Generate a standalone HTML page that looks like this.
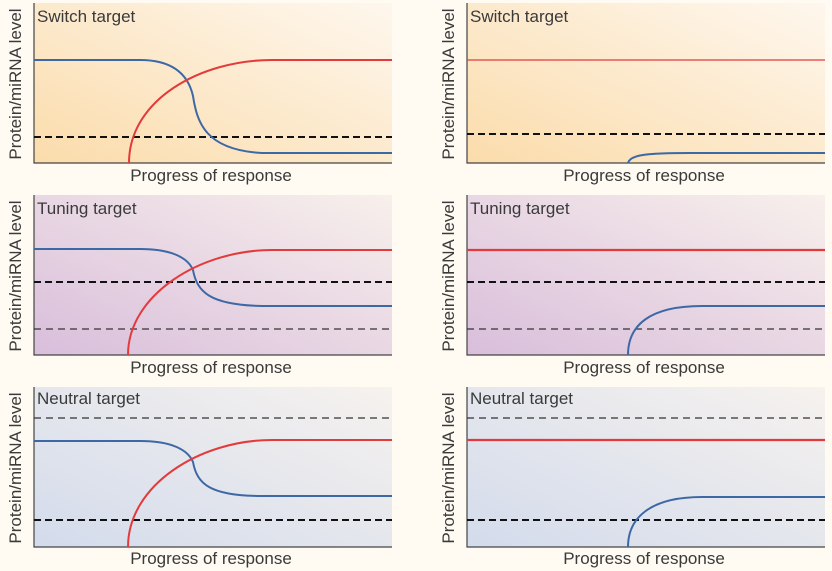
<!DOCTYPE html>
<html><head><style>
html,body{margin:0;padding:0;background:#fffaf2;}
svg{display:block;font-family:"Liberation Sans",sans-serif;}
</style></head><body>
<svg width="832" height="571" viewBox="0 0 832 571">
<defs>
<linearGradient id="g1" x1="0" y1="1" x2="1" y2="0"><stop offset="0" stop-color="#fbdcab"/><stop offset="1" stop-color="#fef7ee"/></linearGradient>
<linearGradient id="g2" x1="0" y1="1" x2="1" y2="0"><stop offset="0" stop-color="#d9bedb"/><stop offset="1" stop-color="#f8f0ec"/></linearGradient>
<linearGradient id="g3" x1="0" y1="1" x2="1" y2="0"><stop offset="0" stop-color="#d3dbec"/><stop offset="1" stop-color="#f6f2ee"/></linearGradient>
</defs>
<g>
<rect x="34" y="3" width="358" height="160" fill="url(#g1)"/>
<rect x="467" y="3" width="358" height="160" fill="url(#g1)"/>
<rect x="34" y="195" width="358" height="160" fill="url(#g2)"/>
<rect x="467" y="195" width="358" height="160" fill="url(#g2)"/>
<rect x="34" y="387" width="358" height="160" fill="url(#g3)"/>
<rect x="467" y="387" width="358" height="160" fill="url(#g3)"/>
</g>
<g fill="none" stroke-linecap="butt">
<path d="M34,3V163H392 M467,3V163H825 M34,195V355H392 M467,195V355H825 M34,387V547H392 M467,387V547H825" stroke="#444" stroke-width="1.2"/>
<path d="M34,137H392" stroke="#111" stroke-width="2" stroke-dasharray="7,4"/>
<path d="M34,60H140 C172,60 188,74 193,96 C197,122 205,150 262,153 H392" stroke="#3d68a6" stroke-width="2"/>
<path d="M129,163 C129,100 200,60 272,60 H392" stroke="#e33b3b" stroke-width="2"/>
<path d="M467,134H825" stroke="#111" stroke-width="2" stroke-dasharray="7,4"/>
<path d="M467,60H825" stroke="#e33b3b" stroke-width="1.2"/>
<path d="M628,163 C630,155 645,153 690,153 H825" stroke="#3d68a6" stroke-width="2"/>
<path d="M34,282H392" stroke="#111" stroke-width="2" stroke-dasharray="7,4"/>
<path d="M34,329H392" stroke="#333" stroke-width="1.2" stroke-dasharray="7,5"/>
<path d="M34,249H140 C172,249 188,258 193,270 C197,292 210,305 262,306 H392" stroke="#3d68a6" stroke-width="2"/>
<path d="M128,355 C128,295 200,250 272,250 H392" stroke="#e33b3b" stroke-width="2"/>
<path d="M467,282H825" stroke="#111" stroke-width="2" stroke-dasharray="7,4"/>
<path d="M467,329H825" stroke="#333" stroke-width="1.2" stroke-dasharray="7,5"/>
<path d="M467,250H825" stroke="#e33b3b" stroke-width="2.2"/>
<path d="M628,355 C628,325 650,306 702,306 H825" stroke="#3d68a6" stroke-width="2"/>
<path d="M34,418H392" stroke="#333" stroke-width="1.2" stroke-dasharray="7,5"/>
<path d="M34,520H392" stroke="#111" stroke-width="2" stroke-dasharray="7,4"/>
<path d="M34,441H140 C172,441 188,450 193,462 C197,484 210,496 262,496 H392" stroke="#3d68a6" stroke-width="2"/>
<path d="M128,547 C128,485 200,440 272,440 H392" stroke="#e33b3b" stroke-width="2"/>
<path d="M467,418H825" stroke="#333" stroke-width="1.2" stroke-dasharray="7,5"/>
<path d="M467,520H825" stroke="#111" stroke-width="2" stroke-dasharray="7,4"/>
<path d="M467,440H825" stroke="#e33b3b" stroke-width="2.2"/>
<path d="M628,547 C628,518 650,497 702,497 H825" stroke="#3d68a6" stroke-width="2"/>
</g>
<g font-size="17" fill="#3a3a3a">
<text x="37" y="22">Switch target</text>
<text x="470" y="22">Switch target</text>
<text x="37" y="214">Tuning target</text>
<text x="470" y="214">Tuning target</text>
<text x="37" y="404">Neutral target</text>
<text x="470" y="404">Neutral target</text>
<g text-anchor="middle">
<text x="211" y="181">Progress of response</text>
<text x="644" y="181">Progress of response</text>
<text x="211" y="373">Progress of response</text>
<text x="644" y="373">Progress of response</text>
<text x="211" y="564">Progress of response</text>
<text x="644" y="564">Progress of response</text>
<text transform="translate(21,84) rotate(-90)">Protein/miRNA level</text>
<text transform="translate(454,84) rotate(-90)">Protein/miRNA level</text>
<text transform="translate(21,276) rotate(-90)">Protein/miRNA level</text>
<text transform="translate(454,276) rotate(-90)">Protein/miRNA level</text>
<text transform="translate(21,468) rotate(-90)">Protein/miRNA level</text>
<text transform="translate(454,468) rotate(-90)">Protein/miRNA level</text>
</g>
</g>
</svg>
</body></html>
